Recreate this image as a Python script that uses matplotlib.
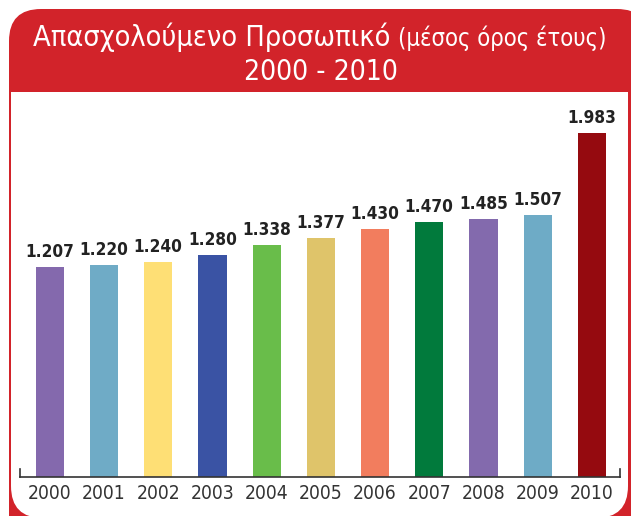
import matplotlib
matplotlib.use("Agg")
import matplotlib.pyplot as plt
from matplotlib.patches import FancyBboxPatch, Rectangle
from matplotlib import font_manager

years = ["2000", "2001", "2002", "2003", "2004", "2005", "2006", "2007", "2008", "2009", "2010"]
values = [1207, 1220, 1240, 1280, 1338, 1377, 1430, 1470, 1485, 1507, 1983]
labels = ["1.207", "1.220", "1.240", "1.280", "1.338", "1.377", "1.430", "1.470", "1.485", "1.507", "1.983"]
colors = ["#8469ad", "#6fabc6", "#fedf75", "#3a53a4", "#69bd4a", "#dfc46a",
          "#f27d5e", "#017a3c", "#836aad", "#6eabc6", "#950a0f"]
title1 = "Απασχολούμενο Προσωπικό"
title1b = "(μέσος όρος έτους)"
title2 = "2000 - 2010"

# prefer a condensed face if one is installed
cond = [f for f in font_manager.fontManager.ttflist
        if str(f.stretch) in ("condensed", "semi-condensed", "75", "87")]
FONT = cond[0].name if cond else "Roboto"
STRETCH = cond[0].stretch if cond else "normal"

W, H = 631, 516
fig = plt.figure(figsize=(W / 100, H / 100), dpi=100)
renderer = fig.canvas.get_renderer()


def fit(t, width):
    bb = t.get_window_extent(renderer=renderer)
    t.set_fontsize(t.get_fontsize() * width / bb.width)


# background overlay in pixel coordinates
bg = fig.add_axes([0, 0, 1, 1])
bg.set_xlim(0, W)
bg.set_ylim(H, 0)
bg.axis("off")
RED = "#d2232a"
bg.add_patch(FancyBboxPatch((9, 9), 640, 540, boxstyle="round,pad=0,rounding_size=32",
                            facecolor=RED, edgecolor="none"))
bg.add_patch(FancyBboxPatch((11, 92), 617, 426, boxstyle="round,pad=0,rounding_size=32",
                            facecolor="white", edgecolor="none"))
bg.add_patch(Rectangle((11, 92), 617, 60, facecolor="white", edgecolor="none"))

kw = dict(color="white", family=FONT, fontstretch=STRETCH, va="baseline")
t1 = bg.text(33, 46, title1, fontsize=20, ha="left", **kw)
fit(t1, 357)
t1b = bg.text(398, 46, title1b, fontsize=15, ha="left", **kw)
fit(t1b, 209)
t2 = bg.text(321, 80, title2, fontsize=22, ha="center", **kw)
fit(t2, 155)

# chart axes
left_px, right_px = 20, 620
bottom_px, top_px = 477, 100
ax = fig.add_axes([left_px / W, 1 - bottom_px / H, (right_px - left_px) / W, (bottom_px - top_px) / H])
ax.patch.set_alpha(0)
x = list(range(len(years)))
ax.bar(x, values, width=0.52, color=colors)
ax.set_xlim(-0.55, 10.52)
ax.set_ylim(0, 2172)
vl = []
for xi, v, lab in zip(x, values, labels):
    vl.append(ax.annotate(lab, (xi, v), xytext=(0, 4.5), textcoords="offset points", ha="center",
                          va="bottom", fontsize=14, fontweight="bold", family=FONT,
                          fontstretch=STRETCH, color="#222222"))
vsize = None
for t in vl:
    bb = t.get_window_extent(renderer=renderer)
    s = t.get_fontsize() * 49 / bb.width
    vsize = s if vsize is None else min(vsize, s)
for t in vl:
    t.set_fontsize(vsize)

ax.set_xticks(x)
tl = ax.set_xticklabels(years, fontsize=14, family=FONT, fontstretch=STRETCH, color="#333333")
bb = tl[0].get_window_extent(renderer=renderer)
tsize = 14 * 44 / bb.width
for t in tl:
    t.set_fontsize(tsize)
ax.tick_params(axis="x", length=0, pad=5)
ax.set_yticks([])
for s in ["top", "right", "left"]:
    ax.spines[s].set_visible(False)
ax.spines["bottom"].set_color("#333333")
ax.spines["bottom"].set_linewidth(1.2)
for xe in (-0.55, 10.52):
    ax.plot([xe, xe], [0, 45], color="#333333", lw=1.2, clip_on=False)

fig.savefig("out.png", dpi=100)
